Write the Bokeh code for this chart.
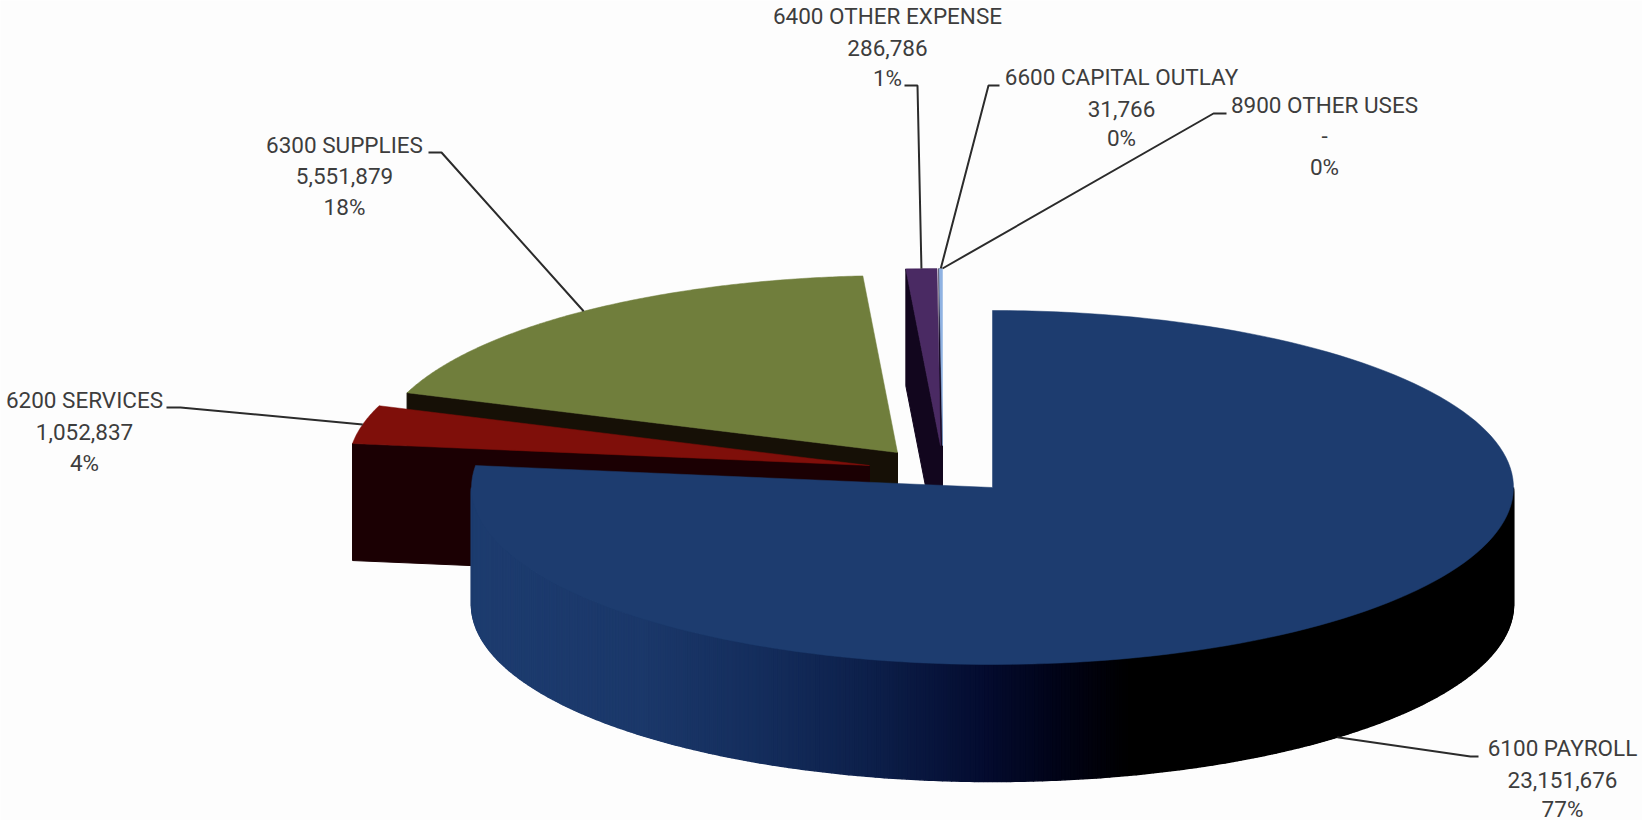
import numpy as np
from bokeh.core.properties import value
from bokeh.embed import file_html
from bokeh.models import Range1d
from bokeh.plotting import figure
from bokeh.resources import INLINE

# Fund expenditure by object code
codes = ["6100 PAYROLL", "6200 SERVICES", "6300 SUPPLIES", "6400 OTHER EXPENSE", "6600 CAPITAL OUTLAY", "8900 OTHER USES"]
amounts = [23151676, 1052837, 5551879, 286786, 31766, 0]
amount_labels = ["23,151,676", "1,052,837", "5,551,879", "286,786", "31,766", "-"]
percent_labels = ["77%", "4%", "18%", "1%", "0%", "0%"]

top_colors = ["#1d3c6f", "#7f0f0a", "#707e3c", "#4a2a63", "#8fb2e2", "#8fb2e2"]
side_colors = ["#000000", "#1b0003", "#161006", "#12061e", "#12061e", "#12061e"]

# Slice apex positions on the page once each slice is pulled out of the pie
centers_x = [992, 869, 897, 940, 942, 942]
centers_y = [487, 465, 452, 445, 445, 445]
RX, RY, DEPTH = 521, 177, 117

# Label block: line centres, and the leader's elbow and text-side end
label_x = [1562, 84, 344, 887, 1121, 1324]
label_y = [[747, 779, 808], [399, 431, 462], [144, 175, 206], [15, 47, 77], [76, 108, 137], [104, 135, 166]]
elbow_x = [1470, 180, 441, 917, 988, 1213]
elbow_y = [756, 407, 152, 85, 85, 113]
leader_end_x = [1478, 166, 428, 904, 999, 1226]

# Blue front wall shading, sampled left to right across the page
wall_stop_x = [469, 640, 760, 880, 980, 1060, 1130, 1513]
wall_stop_rgb = [(29, 60, 111), (27, 56, 106), (20, 45, 92), (12, 30, 72), (4, 12, 48), (1, 3, 22), (0, 0, 0), (0, 0, 0)]

total = sum(amounts)
stops = np.cumsum([0] + amounts) / total * 360.0


def rim(i, deg):
    t = np.radians(deg)
    return centers_x[i] + RX * np.sin(t), centers_y[i] - RY * np.cos(t)


p = figure(width=1642, height=820, output_backend="svg", toolbar_location=None,
           x_range=Range1d(0, 1642), y_range=Range1d(820, 0),
           min_border=0, outline_line_color=None, background_fill_color="#fdfdfd",
           border_fill_color="#fdfdfd", x_axis_type=None, y_axis_type=None)
p.grid.visible = False

# Painted back to front: capital outlay, other expense, supplies, services, payroll
for i in [4, 3, 2, 1, 0]:
    a0, a1 = stops[i], stops[i + 1]
    cx, cy = centers_x[i], centers_y[i]
    rx0, ry0 = rim(i, a0)
    if i > 0:
        # radial cut face seen below the leading edge of the slice
        p.patch([rx0, cx, cx, rx0], [ry0, cy, cy + DEPTH, ry0 + DEPTH],
                fill_color=side_colors[i], line_color=side_colors[i], line_width=1)
    else:
        # curved outer wall, built from shaded strips
        angles = np.arange(90.0, 270.01, 0.5)
        for b0, b1 in zip(angles[:-1], angles[1:]):
            x0, y0 = rim(0, b0)
            x1, y1 = rim(0, b1)
            mid = (x0 + x1) / 2
            rgb = [int(round(np.interp(mid, wall_stop_x, [s[k] for s in wall_stop_rgb]))) for k in range(3)]
            col = "#%02x%02x%02x" % tuple(rgb)
            p.patch([x0, x1, x1, x0], [y0, y1, y1 + DEPTH, y0 + DEPTH], fill_color=col, line_color=col, line_width=1.5)
    t = np.radians(np.linspace(a0, a1, 160))
    xs = np.concatenate([[cx], cx + RX * np.sin(t)])
    ys = np.concatenate([[cy], cy - RY * np.cos(t)])
    p.patch(xs, ys, fill_color=top_colors[i], line_color=top_colors[i], line_width=0.5)

# Leader lines run from the middle of each slice's rim to its label
for i in range(len(codes)):
    mid = (stops[i] + stops[i + 1]) / 2
    ax, ay = rim(i, mid)
    if 90 < mid < 270:
        ay += DEPTH
    p.line([ax, elbow_x[i], leader_end_x[i]], [ay, elbow_y[i], elbow_y[i]], line_color="#2b2b2b", line_width=2)

# Three-line labels: code, amount, share
for i in range(len(codes)):
    for line, ypos in zip((codes[i], amount_labels[i], percent_labels[i]), label_y[i]):
        p.text([label_x[i]], [ypos], text=[line], text_font=value("Roboto"), text_font_size="22.5px",
               text_color="#3d3d3d", text_align="center", text_baseline="middle")

open("out.html", "w").write(file_html(p, INLINE))
